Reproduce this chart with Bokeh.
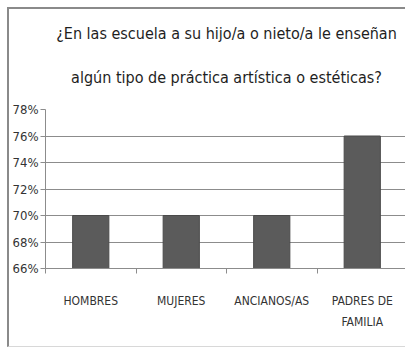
import numpy as np
from bokeh.plotting import figure
from bokeh.models import FixedTicker, NumeralTickFormatter, LinearAxis, Range1d, Title
from bokeh.embed import file_html
from bokeh.resources import INLINE

title_lines = ["¿En las escuela a su hijo/a o nieto/a le enseñan",
               "algún tipo de práctica artística o estéticas?"]
categories = ["HOMBRES", "MUJERES", "ANCIANOS/AS", "PADRES DE\nFAMILIA"]
values = [0.70, 0.70, 0.70, 0.76]
y_ticks = [0.66, 0.68, 0.70, 0.72, 0.74, 0.76, 0.78]

FONT = "DejaVu Sans Condensed"

n = len(categories)
centers = list(np.arange(n) + 0.5)
bounds = list(np.arange(n + 1).astype(float))

p = figure(width=398, height=340, output_backend="svg", toolbar_location=None,
           x_range=Range1d(0, n), y_range=Range1d(y_ticks[0], y_ticks[-1]),
           x_axis_location=None,
           min_border_left=36, min_border_right=0, min_border_top=100, min_border_bottom=81)
p.margin = (7, 0, 0, 7)
p.styles = {"border-left": "2px solid #8a8a8a", "border-top": "2px solid #8a8a8a",
            "border-bottom": "1px solid #d8d8d8"}
p.outline_line_color = None
p.title = None

# two title lines, second one nearest the plot
for line, so in zip(reversed(title_lines), [46, 0]):
    p.add_layout(Title(text=line, align="center", text_font=FONT, text_font_size="16px",
                       text_font_style="normal", text_color="#1e1e1e", standoff=so), "above")

p.vbar(x=centers, top=values, bottom=y_ticks[0], width=0.4,
       fill_color="#5b5b5b", line_color="#4a4a4a")

# y axis
ya = p.yaxis[0]
ya.ticker = FixedTicker(ticks=y_ticks)
ya.formatter = NumeralTickFormatter(format="0%")
ya.major_label_text_font = FONT
ya.major_label_text_font_size = "13px"
ya.major_label_text_color = "#333333"
ya.axis_line_color = "#8c8c8c"
ya.major_tick_line_color = "#8c8c8c"
ya.major_tick_in = 0
ya.major_tick_out = 5
ya.minor_tick_line_color = None
ya.major_label_standoff = 2

p.xgrid.visible = False
p.ygrid.ticker = FixedTicker(ticks=y_ticks)
p.ygrid.grid_line_color = "#8c8c8c"

# x axis with boundary ticks (no labels)
xb = LinearAxis(ticker=FixedTicker(ticks=bounds),
                major_label_overrides={b: "" for b in bounds},
                axis_line_color="#8c8c8c", major_tick_line_color="#8c8c8c",
                major_tick_in=0, major_tick_out=5, minor_tick_line_color=None,
                major_label_text_font_size="1px")
p.add_layout(xb, "below")
# category labels
xl = LinearAxis(ticker=FixedTicker(ticks=centers),
                major_label_overrides={c: lab for c, lab in zip(centers, categories)},
                axis_line_color=None, major_tick_line_color=None, minor_tick_line_color=None,
                major_label_text_font=FONT, major_label_text_font_size="12px",
                major_label_text_color="#333333", major_label_standoff=14,
                major_label_text_line_height=1.5)
p.add_layout(xl, "below")

open("out.html", "w").write(file_html(p, INLINE))
